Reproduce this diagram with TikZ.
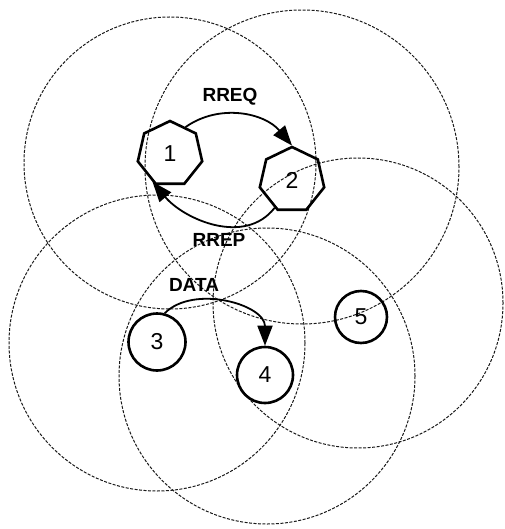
\documentclass[tikz,border=0pt]{standalone}
\usepackage{fontspec}
\setmainfont{Liberation Sans}
\usetikzlibrary{shapes.geometric,arrows.meta}
\begin{document}
\begin{tikzpicture}[x=1pt,y=1pt,
  txrange/.style={draw=black!90,line width=1pt,dash pattern=on 3pt off 1.5pt},
  hepta/.style={regular polygon,regular polygon sides=7,draw,line width=2.6pt,minimum size=66pt,inner sep=0pt,font=\fontsize{23}{23}\selectfont},
  rnode/.style={circle,draw,line width=2.6pt,inner sep=0pt,font=\fontsize{23}{23}\selectfont},
  msg/.style={line width=1.8pt,-{Triangle[length=20pt,width=15pt]}},
  lbl/.style={font=\bfseries\fontsize{19}{19}\selectfont,inner sep=0pt}]
\useasboundingbox (0,0) rectangle (504,-529);
% transmission ranges
\draw[txrange] (170,-163) circle (146);
\draw[txrange] (302,-167) circle (157);
\draw[txrange] (157,-343) circle (148);
\draw[txrange] (267,-376) circle (148);
\draw[txrange] (358,-303) circle (145);
% nodes
\node[hepta] (n1) at (170,-154) {1};
\node[hepta] (n2) at (292,-180) {2};
\node[rnode,minimum size=57pt] (n3) at (157,-342) {3};
\node[rnode,minimum size=56pt] (n4) at (265,-375) {4};
\node[rnode,minimum size=52pt] (n5) at (361,-317) {5};
% labels
\node[lbl] (lreq) at (230,-97) {RREQ};
\node[lbl] (lrep) at (219,-240) {RREP};
\node[lbl] (ldata) at (194,-285) {DATA};
% messages
\draw[msg] (n1.60) to[out=35,in=130] (n2.north);
\draw[msg] (n2.238) to[out=232,in=-50] (n1.238);
\draw[msg] (n3.75) to[out=45,in=90] (n4.north);
\end{tikzpicture}
\end{document}
